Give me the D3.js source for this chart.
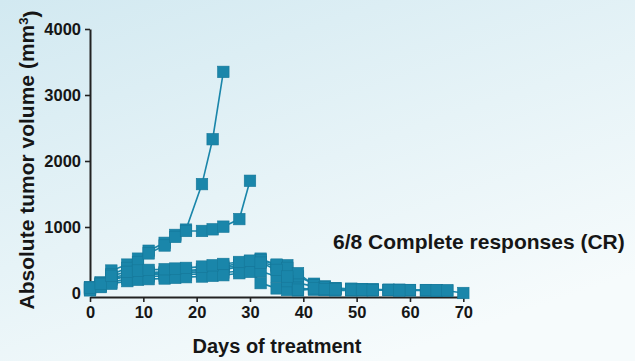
<!DOCTYPE html>
<html>
<head>
<meta charset="utf-8">
<script src="https://cdn.jsdelivr.net/npm/d3@7"></script>
<style>
  html, body { margin: 0; padding: 0; }
  body { width: 635px; height: 361px; overflow: hidden; }
  text { font-family: "Liberation Sans", Arial, sans-serif; font-weight: bold; fill: #161616; }
</style>
</head>
<body>
<svg id="chart" width="635" height="361"></svg>
<script>
// Measurement days (days of treatment)
const days = [0, 2, 4, 7, 9, 11, 14, 16, 18, 21, 23, 25, 28, 30, 32, 35, 37, 39, 42, 44, 46, 49, 51, 53, 56, 58, 60, 63, 65, 67, 70];

// Tumor volumes (mm³) per animal; series stop when the animal leaves the study
const mouse1 = [80, 160, 340, 430, 520, 640, 760, 880, 960, 1650, 2330, 3350];
const mouse2 = [70, 140, 280, 380, 470, 600, 720, 850, 940, 940, 965, 1005, 1120, 1700];
const mouse3 = [90, 150, 230, 280, 300, 310, 320, 330, 340, 360, 380, 400, 450, 470, 520, 420, 420, 250, 140, 100, 70, 55, 55, 50, 45, 45, 45, 40, 40, 35, 0];
const mouse4 = [60, 120, 200, 250, 270, 280, 290, 300, 310, 320, 340, 350, 400, 440, 470, 400, 300, 150, 100, 80, 70, 60, 50, 50, 45, 40, 40, 40, 35];
const mouse5 = [50, 100, 160, 220, 240, 250, 260, 270, 280, 290, 300, 310, 330, 350, 150, 70, 45, 40, 60, 50, 50, 45, 40, 40];
const mouse6 = [70, 130, 210, 260, 280, 290, 300, 320, 330, 340, 360, 380, 420, 480, 500, 430, 380, 300, 120, 90, 70, 65, 60, 55, 50, 50, 45, 45, 40, 40];
const mouse7 = [40, 90, 140, 180, 200, 210, 220, 230, 240, 250, 260, 270, 300, 320, 330, 250, 180, 80, 50, 45, 40, 40];
const mouse8 = [80, 140, 260, 320, 340, 350, 360, 370, 380, 400, 420, 440, 470, 490, 460, 350, 250, 50, 70, 60, 55, 50, 50, 45, 45, 40];

const animals = [mouse1, mouse2, mouse3, mouse4, mouse5, mouse6, mouse7, mouse8];

const xTicks = [0, 10, 20, 30, 40, 50, 60, 70];
const yTicks = [0, 1000, 2000, 3000, 4000];

const xLabel = "Days of treatment";
const yLabel = "Absolute tumor volume (mm";
const note = "6/8 Complete responses (CR)";

const svg = d3.select("#chart");

// Soft blue background wash
const defs = svg.append("defs");
const grad = defs.append("linearGradient")
  .attr("id", "bg").attr("x1", "0").attr("y1", "0").attr("x2", "0.6").attr("y2", "1");
grad.append("stop").attr("offset", "0").attr("stop-color", "#d2e9f1");
grad.append("stop").attr("offset", "0.55").attr("stop-color", "#e6f3f7");
grad.append("stop").attr("offset", "1").attr("stop-color", "#f6fbfc");
svg.append("rect").attr("width", 635).attr("height", 361).attr("fill", "url(#bg)");

const x = d3.scaleLinear().domain([0, 70]).range([90, 463.3]);
const y = d3.scaleLinear().domain([0, 4000]).range([293, 29]);

const teal = "#1a86aa";

// Axes
const yAxis = svg.append("g").attr("transform", "translate(90,0)")
  .call(d3.axisLeft(y).tickValues(yTicks).tickSize(5).tickSizeOuter(0).tickPadding(4).tickFormat(d3.format("d")));
const xAxis = svg.append("g").attr("transform", "translate(0,297)")
  .call(d3.axisBottom(x).tickValues(xTicks).tickSize(5).tickSizeOuter(0).tickPadding(4).tickFormat(d3.format("d")));
[yAxis, xAxis].forEach(g => {
  g.select(".domain").attr("stroke", "#222").attr("stroke-width", 2);
  g.selectAll(".tick line").attr("stroke", "#222").attr("stroke-width", 1.6);
  g.selectAll(".tick text").attr("fill", "#161616").style("font-size", "16.5px")
    .style("font-family", "'Liberation Sans', Arial, sans-serif").style("font-weight", "bold");
});

// Growth curves
const line = d3.line()
  .x(d => x(d[0]))
  .y(d => y(d[1]));

const series = animals.map(vals => vals.map((v, i) => [days[i], v]).filter(d => d[1] != null));

const plot = svg.append("g");
series.forEach(pts => {
  plot.append("path").datum(pts)
    .attr("fill", "none").attr("stroke", teal).attr("stroke-width", 1.6)
    .attr("d", line);
});
const sz = 11.5;
series.forEach(pts => {
  plot.selectAll(null).data(pts).enter().append("rect")
    .attr("x", d => x(d[0]) - sz / 2)
    .attr("y", d => y(d[1]) - sz / 2)
    .attr("width", sz).attr("height", sz)
    .attr("fill", teal).attr("stroke", "#167799").attr("stroke-width", 0.6);
});

// Axis titles
svg.append("text")
  .attr("x", 277).attr("y", 353).attr("text-anchor", "middle")
  .style("font-size", "20px").text(xLabel);

const yt = svg.append("text")
  .attr("transform", "translate(34,160) rotate(-90)")
  .attr("text-anchor", "middle").style("font-size", "21px");
yt.append("tspan").text(yLabel);
yt.append("tspan").attr("dy", "-0.5em").style("font-size", "13px").text("3");
yt.append("tspan").attr("dy", "0.5em").text(")");

// Annotation
svg.append("text").attr("x", 333).attr("y", 249)
  .style("font-size", "21px").text(note);
</script>
</body>
</html>
